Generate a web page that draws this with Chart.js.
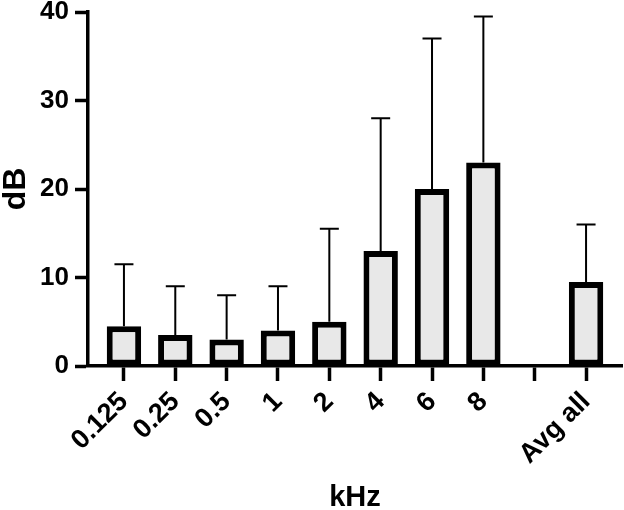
<!DOCTYPE html>
<html>
<head>
<meta charset="utf-8">
<script src="https://cdn.jsdelivr.net/npm/chart.js@4.4.1/dist/chart.umd.min.js"></script>
<style>
  html, body { margin: 0; padding: 0; background: #fff; }
  #wrap { width: 624px; height: 510px; }
</style>
</head>
<body>
<div id="wrap"><canvas id="c" width="624" height="510"></canvas></div>
<script>
const categories = ['0.125', '0.25', '0.5', '1', '2', '4', '6', '8', '', 'Avg all'];
const means = [4.5, 3.5, 3, 4, 5, 13, 20, 23, null, 9.5];
const upperErr = [11.5, 9, 8, 9, 15.5, 28, 37, 39.5, null, 16];
const yTicks = [0, 10, 20, 30, 40];

const FONT = '"Liberation Sans", Arial, Helvetica, sans-serif';

const barData = [];
means.forEach((v, i) => { if (v !== null) barData.push({ x: i, y: v }); });

const errorBars = {
  id: 'errorBars',
  afterDatasetsDraw(chart) {
    const ctx = chart.ctx;
    const meta = chart.getDatasetMeta(0);
    const ys = chart.scales.y;
    ctx.save();
    ctx.strokeStyle = '#000';
    ctx.lineWidth = 2;
    meta.data.forEach((el, j) => {
      const idx = barData[j].x;
      const top = ys.getPixelForValue(upperErr[idx]);
      const base = ys.getPixelForValue(means[idx]);
      const x = el.x;
      const capHalf = 9.5;
      ctx.beginPath();
      ctx.moveTo(x, base);
      ctx.lineTo(x, top);
      ctx.moveTo(x - capHalf, top);
      ctx.lineTo(x + capHalf, top);
      ctx.stroke();
    });
    ctx.restore();
  }
};

new Chart(document.getElementById('c'), {
  type: 'bar',
  data: {
    datasets: [{
      data: barData,
      backgroundColor: '#e8e8e8',
      borderColor: '#000',
      borderWidth: 6,
      borderSkipped: false,
      barPercentage: 0.67,
      categoryPercentage: 1
    }]
  },
  options: {
    responsive: false,
    animation: false,
    devicePixelRatio: 1,
    layout: { padding: { top: 12, right: 2, left: 0, bottom: 0 } },
    plugins: { legend: { display: false }, tooltip: { enabled: false } },
    scales: {
      x: {
        type: 'linear',
        offset: false,
        min: -0.7,
        max: 9.7,
        afterBuildTicks(scale) {
          scale.ticks = categories.map((_, i) => ({ value: i }));
        },
        afterFit(scale) { scale.height = 144; },
        ticks: {
          autoSkip: false,
          maxRotation: 45,
          minRotation: 45,
          padding: 5,
          color: '#000',
          font: { family: FONT, size: 27, weight: 'bold' },
          callback: (v) => categories[v] !== undefined ? categories[v] : ''
        },
        grid: {
          offset: false,
          drawOnChartArea: false,
          drawTicks: true,
          tickLength: 15,
          tickWidth: 3.5,
          tickColor: '#000'
        },
        border: { display: true, color: '#000', width: 3.5 },
        title: {
          display: true,
          text: 'kHz',
          color: '#000',
          font: { family: FONT, size: 29, weight: 'bold', lineHeight: 1.1 },
          padding: { top: 0, bottom: -4 }
        }
      },
      y: {
        min: 0,
        max: 40,
        afterBuildTicks(scale) {
          scale.ticks = yTicks.map(v => ({ value: v }));
        },
        afterFit(scale) { scale.width = 88; scale.paddingTop = 0; },
        ticks: {
          padding: 6,
          color: '#000',
          font: { family: FONT, size: 26, weight: 'bold' }
        },
        grid: {
          drawOnChartArea: false,
          drawTicks: true,
          tickLength: 13,
          tickWidth: 3.5,
          tickColor: '#000'
        },
        border: { display: true, color: '#000', width: 3.5 },
        title: {
          display: true,
          text: 'dB',
          color: '#000',
          font: { family: FONT, size: 32, weight: 'bold', lineHeight: 1 },
          padding: { top: 0, bottom: 6 }
        }
      }
    }
  },
  plugins: [errorBars]
});
</script>
</body>
</html>
